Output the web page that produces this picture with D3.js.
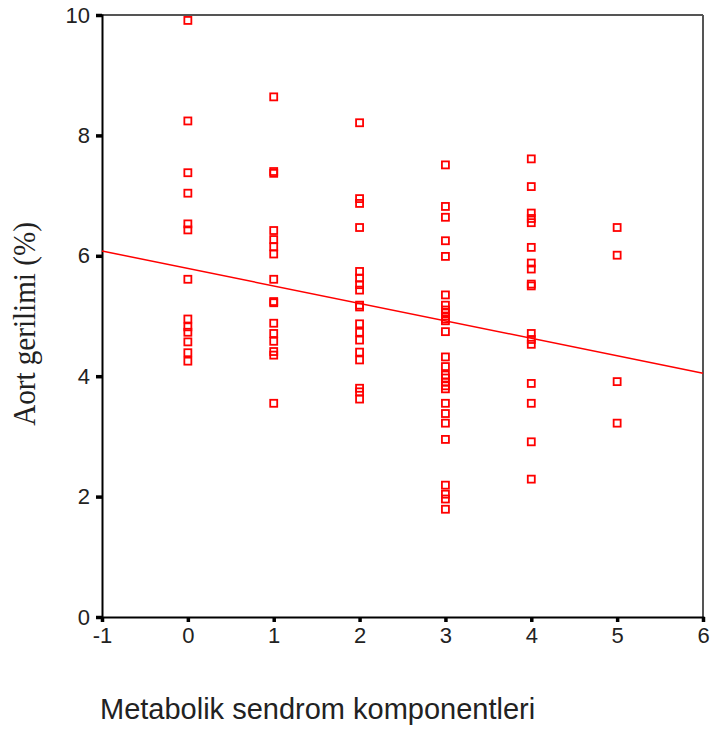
<!DOCTYPE html>
<html><head><meta charset="utf-8">
<script src="https://cdn.jsdelivr.net/npm/d3@7"></script>
<style>body{margin:0;background:#fff}</style>
</head><body>
<svg id="c" width="710" height="731"></svg>
<script>
// Data
const components = [0, 1, 2, 3, 4, 5];
const values0 = [9.91, 8.24, 7.38, 7.04, 6.53, 6.43, 5.61, 4.95, 4.82, 4.73, 4.57, 4.39, 4.25];
const values1 = [8.64, 7.40, 7.37, 6.42, 6.27, 6.15, 6.03, 5.61, 5.24, 5.22, 4.88, 4.71, 4.58, 4.41, 4.35, 3.55];
const values2 = [8.21, 6.95, 6.87, 6.47, 5.74, 5.63, 5.52, 5.43, 5.18, 5.15, 4.87, 4.73, 4.60, 4.40, 4.27, 3.80, 3.74, 3.62];
const values3 = [7.51, 6.82, 6.64, 6.25, 5.99, 5.35, 5.18, 5.10, 5.05, 5.00, 4.95, 4.92, 4.74, 4.32, 4.16, 4.02, 3.97, 3.90, 3.84, 3.79, 3.55, 3.38, 3.22, 2.95, 2.19, 2.04, 1.96, 1.79];
const values4 = [7.61, 7.15, 6.71, 6.62, 6.55, 6.14, 5.88, 5.78, 5.53, 5.50, 4.71, 4.61, 4.53, 3.88, 3.55, 2.91, 2.29];
const values5 = [6.47, 6.01, 3.91, 3.22];
const fitLineX = [-1, 6];
const fitLineY = [6.08, 4.05];
const xTicks = [-1, 0, 1, 2, 3, 4, 5, 6];
const yTicks = [0, 2, 4, 6, 8, 10];
const xTitle = "Metabolik sendrom komponentleri";
const yTitle = "Aort gerilimi (%)";

const columns = [values0, values1, values2, values3, values4, values5];
const points = [];
columns.forEach((vals, i) => vals.forEach(v => points.push({x: components[i], y: v})));

const svg = d3.select("#c");
const pL = 102, pR = 703, pT = 15, pB = 617;
const x = d3.scaleLinear().domain([-1, 6]).range([pL, pR]);
const y = d3.scaleLinear().domain([0, 10]).range([pB, pT]);

// frame top/right
svg.append("line").attr("x1", pL).attr("x2", pR).attr("y1", pT).attr("y2", pT)
  .attr("stroke", "#555").attr("stroke-width", 2);
svg.append("line").attr("x1", pR).attr("x2", pR).attr("y1", pT).attr("y2", pB)
  .attr("stroke", "#555").attr("stroke-width", 2);

// axes
const fmt = d => String(d);
const yAxis = svg.append("g").attr("transform", `translate(${pL},0)`)
  .call(d3.axisLeft(y).tickValues(yTicks).tickSize(6).tickPadding(6).tickFormat(fmt));
const xAxis = svg.append("g").attr("transform", `translate(0,${pB})`)
  .call(d3.axisBottom(x).tickValues(xTicks).tickSize(5).tickPadding(4).tickFormat(fmt));
[yAxis, xAxis].forEach(g => {
  g.select(".domain").attr("stroke", "#000").attr("stroke-width", 2);
  g.selectAll(".tick line").attr("stroke", "#000").attr("stroke-width", 3.5);
  g.selectAll(".tick text").attr("font-family", "Liberation Sans, Arial, sans-serif")
    .attr("font-size", 22).attr("fill", "#222");
});
xAxis.selectAll(".tick text").attr("dy", "0.75em");

// points
svg.append("g").selectAll("rect").data(points).join("rect")
  .attr("x", d => x(d.x) - 3.5).attr("y", d => y(d.y) - 3.5)
  .attr("width", 7).attr("height", 7)
  .attr("fill", "none").attr("stroke", "#ff0000").attr("stroke-width", 1.8);

// fit line
svg.append("line")
  .attr("x1", x(fitLineX[0])).attr("y1", y(fitLineY[0]))
  .attr("x2", x(fitLineX[1])).attr("y2", y(fitLineY[1]))
  .attr("stroke", "#ff0000").attr("stroke-width", 1.5);

// titles
svg.append("text").attr("x", 100).attr("y", 719)
  .attr("font-family", "Liberation Sans, Arial, sans-serif").attr("font-size", 29)
  .attr("fill", "#222").text(xTitle);
svg.append("text").attr("transform", "translate(35,324) rotate(-90) scale(0.91,1)")
  .attr("text-anchor", "middle")
  .attr("font-family", "Liberation Serif, Times New Roman, serif").attr("font-size", 32)
  .attr("fill", "#222").text(yTitle);
</script>
</body></html>
